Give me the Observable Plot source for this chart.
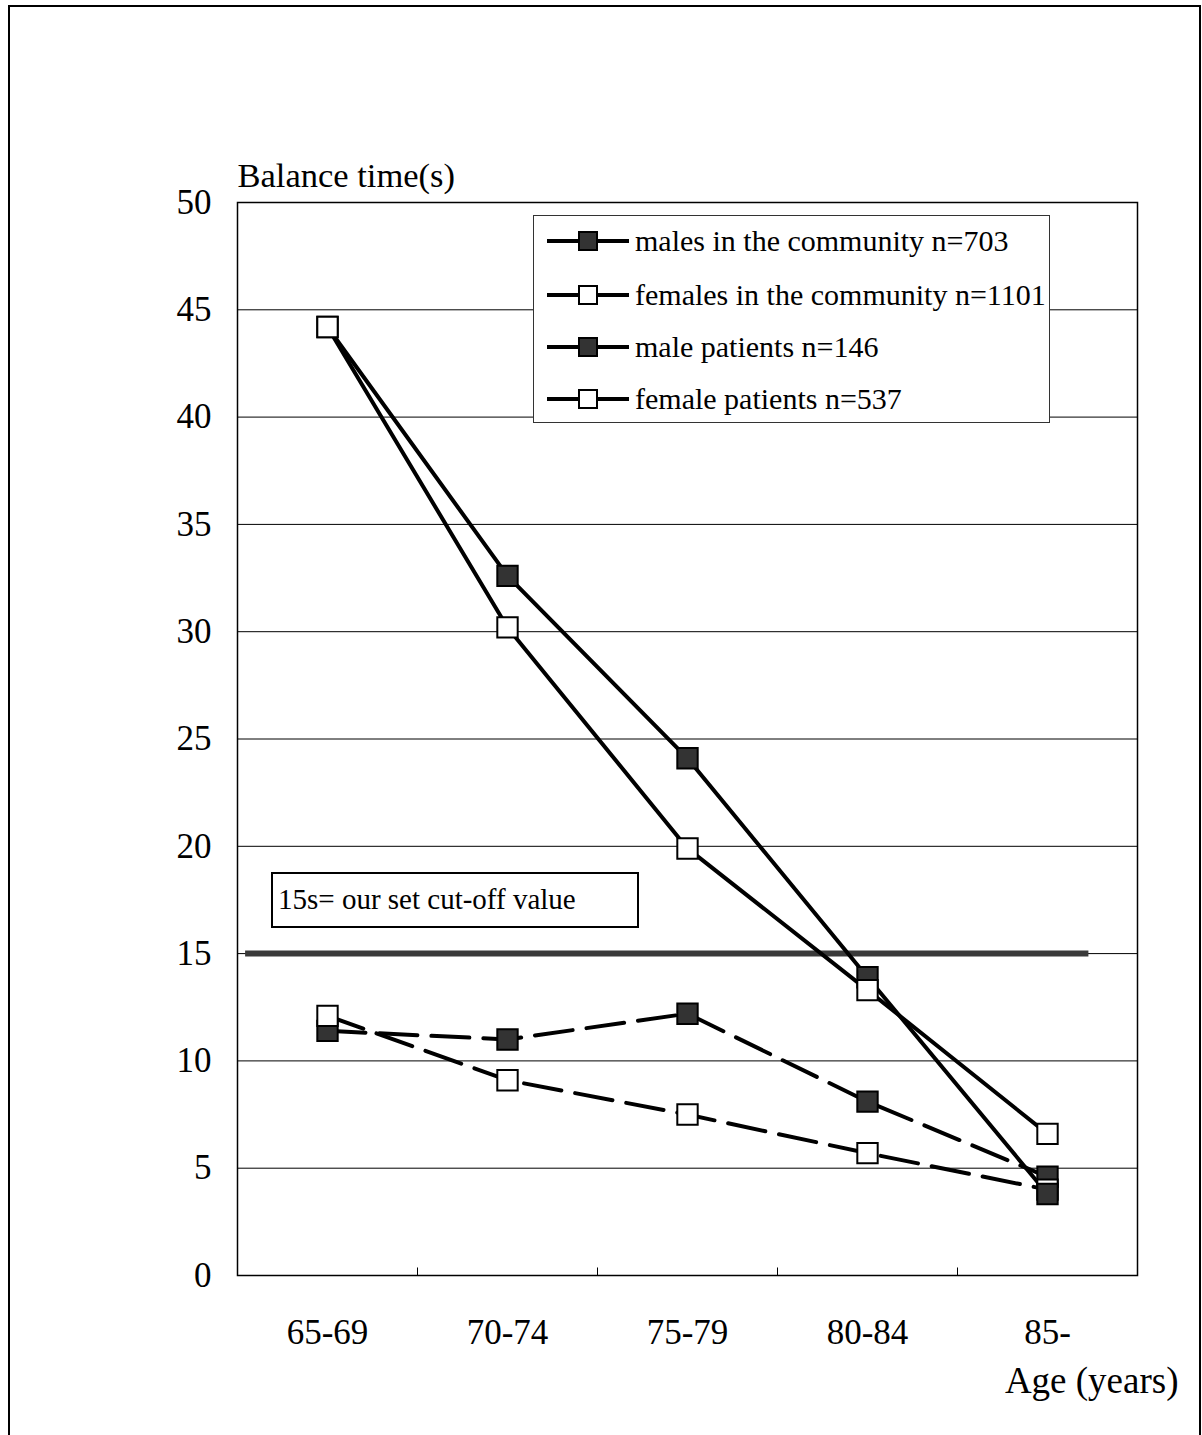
<!DOCTYPE html>
<html><head><meta charset="utf-8">
<script src="https://cdn.jsdelivr.net/npm/d3@7"></script>
<script src="https://cdn.jsdelivr.net/npm/@observablehq/plot@0.6"></script>
<style>
body{margin:0;background:#fff;overflow:hidden}
#wrap{position:relative;width:1202px;height:1435px;overflow:hidden;font-family:"Liberation Serif","Times New Roman",serif;background:#fff}
#wrap svg.plot{position:absolute;left:0;top:0}
#wrap svg, #wrap svg text{font-family:"Liberation Serif","Times New Roman",serif !important}
#outer{position:absolute;left:8px;top:5px;width:1189px;height:1450px;border:2px solid #000;pointer-events:none}
#legend{position:absolute;left:533px;top:215px;width:515px;height:206px;border:1.5px solid #333;background:#fff}
#cutbox{position:absolute;left:271px;top:872px;width:359px;height:52px;border:2px solid #000;background:#fff;font-size:29px;line-height:50px;padding-left:5px;box-sizing:content-box;white-space:nowrap}
</style></head><body><div id="wrap"></div>
<script>
const ageGroups = ["65-69", "70-74", "75-79", "80-84", "85-"];
const maleCommunity = [44.2, 32.6, 24.1, 13.9, 3.8];
const femaleCommunity = [44.2, 30.2, 19.9, 13.3, 6.6];
const malePatients = [11.4, 11.0, 12.2, 8.1, 4.6];
const femalePatients = [12.1, 9.1, 7.5, 5.7, 4.0];
const seriesNames = ["males in the community n=703", "females in the community n=1101", "male patients n=146", "female patients n=537"];
const yTicks = [0, 5, 10, 15, 20, 25, 30, 35, 40, 45, 50];
const cutoff = 15;
const cutoffLabel = "15s= our set cut-off value";
const yTitle = "Balance time(s)";
const xTitle = "Age (years)";

const seriesValues = [maleCommunity, femaleCommunity, malePatients, femalePatients];
const seriesStyle = [
  {fill: "#333", dash: null},
  {fill: "#fff", dash: null},
  {fill: "#333", dash: "38,14"},
  {fill: "#fff", dash: "38,14"}
];
const rows = [];
seriesValues.forEach((vals, s) => vals.forEach((v, i) => rows.push({series: s, pos: i + 0.5, value: v})));

const serif = "'Liberation Serif','Times New Roman',serif";
const marks = [
  Plot.ruleY(yTicks, {stroke: "#000", strokeWidth: 1}),
  Plot.frame({stroke: "#000", strokeWidth: 1.5}),
  Plot.ruleX([1, 2, 3, 4], {y1: 0, y2: 0.35, stroke: "#000", strokeWidth: 1}),
  Plot.ruleY([cutoff], {x1: 0.045, x2: 4.73, stroke: "#3a3a3a", strokeWidth: 6})
];
[2, 3, 0, 1].forEach(s => {
  const d = rows.filter(r => r.series === s);
  marks.push(Plot.line(d, {x: "pos", y: "value", stroke: "#000", strokeWidth: 4, strokeDasharray: seriesStyle[s].dash || undefined}));
});
[2, 3, 0, 1].forEach(s => {
  const d = rows.filter(r => r.series === s);
  marks.push(Plot.dot(d, {x: "pos", y: "value", symbol: "square", r: 11.5, fill: seriesStyle[s].fill, stroke: "#000", strokeWidth: 2}));
});
marks.push(Plot.text([yTitle], {text: d => d, frameAnchor: "top-left", textAnchor: "start", lineAnchor: "middle", dy: -27, fontSize: 34.5, fontFamily: serif}));
marks.push(Plot.text([xTitle], {text: d => d, frameAnchor: "bottom-right", textAnchor: "end", lineAnchor: "middle", dx: 41, dy: 106, fontSize: 37, fontFamily: serif}));

const chart = Plot.plot({
  width: 1202, height: 1435,
  marginLeft: 237, marginRight: 65, marginTop: 202, marginBottom: 160,
  style: {fontFamily: serif, fontSize: "35px", color: "#000", background: "transparent"},
  x: {domain: [0, 5], ticks: [0.5, 1.5, 2.5, 3.5, 4.5], tickFormat: v => ageGroups[Math.floor(v)], tickSize: 0, tickPadding: 44, label: null},
  y: {domain: [0, 50], ticks: yTicks, tickSize: 0, tickPadding: 26, label: null},
  marks
});
chart.classList.add("plot");
const wrap = document.getElementById("wrap");
wrap.appendChild(chart);

// outer page border
const outer = document.createElement("div");
outer.id = "outer";
wrap.appendChild(outer);

// legend
const legend = d3.select(wrap).append("div").attr("id", "legend");
const lsvg = legend.append("svg").attr("width", 515).attr("height", 206);
const rowY = [25, 79, 131, 183];
seriesNames.forEach((name, s) => {
  const g = lsvg.append("g").attr("transform", `translate(0,${rowY[s]})`);
  g.append("line").attr("x1", 13).attr("x2", 95).attr("y1", 0).attr("y2", 0).attr("stroke", "#000").attr("stroke-width", 4);
  g.append("rect").attr("x", 45).attr("y", -9).attr("width", 18).attr("height", 18)
    .attr("fill", seriesStyle[s].fill).attr("stroke", "#000").attr("stroke-width", 2);
  g.append("text").attr("x", 101).attr("y", 0).attr("dy", "0.33em")
    .attr("font-family", serif).attr("font-size", 30).text(name);
});

// cut-off label box
d3.select(wrap).append("div").attr("id", "cutbox").text(cutoffLabel);
</script>
</body></html>
